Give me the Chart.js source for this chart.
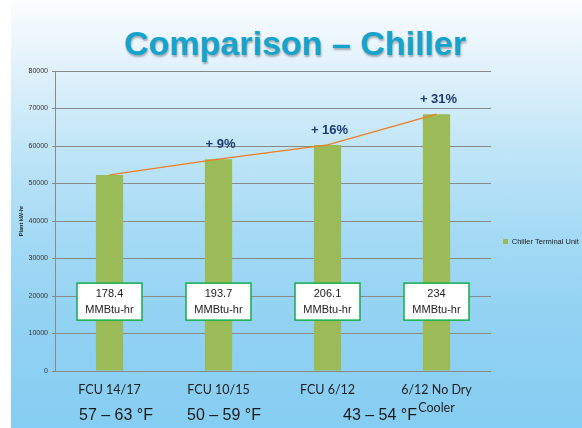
<!DOCTYPE html>
<html>
<head>
<meta charset="utf-8">
<script src="https://cdn.jsdelivr.net/npm/chart.js@4"></script>
<style>
  body { margin: 0; width: 582px; height: 428px; position: relative; overflow: hidden; background: #fff; }
  #bg {
    position: absolute; left: 11px; top: 0; width: 571px; height: 428px;
    background: linear-gradient(to bottom, #fbfdfe 0%, #e2f2fb 15%, #c0e5f7 35%, #a4daf5 55%, #92d2f3 75%, #85cdf2 100%);
  }
  #chart { position: absolute; left: 0; top: 0; }
  .title {
    position: absolute; left: 124px; top: 26px; font: bold 34px "Liberation Sans", Arial, sans-serif;
    line-height: 34px; color: #14a3cc; text-shadow: 1px 2px 2px rgba(0, 0, 0, 0.3); white-space: nowrap;
  }
  .temp {
    position: absolute; top: 407px; font: 16px "Liberation Sans", Arial, sans-serif;
    line-height: 16px; color: #1a1a1a; white-space: nowrap;
  }
</style>
</head>
<body>
<div id="bg"></div>
<div class="title">Comparison – Chiller</div>
<canvas id="chart" width="582" height="428"></canvas>
<span class="temp" style="left:79px">57 – 63 °F</span>
<span class="temp" style="left:187px">50 – 59 °F</span>
<span class="temp" style="left:343px">43 – 54 °F</span>
<script>
// du lieu bieu do
const categories = [['FCU 14/17'], ['FCU 10/15'], ['FCU 6/12'], ['6/12 No Dry', 'Cooler']];
const plantKwHr = [52300, 56500, 60300, 68500];
const increaseLabels = ['', '+ 9%', '+ 16%', '+ 31%'];
const energyValues = ['178.4', '193.7', '206.1', '234'];
const energyUnit = 'MMBtu-hr';
const yMin = 0;
const yMax = 80000;
const yStep = 10000;

// hop ghi chu va nhan phan tram
const annotations = {
  id: 'annotations',
  afterDatasetsDraw(chart) {
    const ctx = chart.ctx;
    const bars = chart.getDatasetMeta(0).data;
    const y = chart.scales.y;
    ctx.save();
    bars.forEach((bar, i) => {
      // hop MMBtu
      const cy = y.getPixelForValue(18500);
      const w = 65, h = 37;
      ctx.fillStyle = '#ffffff';
      ctx.fillRect(bar.x - w / 2, cy - h / 2, w, h);
      ctx.strokeStyle = '#14ad4a';
      ctx.lineWidth = 1.5;
      ctx.strokeRect(bar.x - w / 2, cy - h / 2, w, h);
      ctx.fillStyle = '#222';
      ctx.font = '11px "Liberation Sans", Arial, sans-serif';
      ctx.textAlign = 'center';
      ctx.textBaseline = 'middle';
      ctx.fillText(energyValues[i], bar.x, cy - 8);
      ctx.fillText(energyUnit, bar.x, cy + 8);
      // phan tram tang
      if (increaseLabels[i]) {
        ctx.fillStyle = '#1f3b70';
        ctx.font = 'bold 13px "Liberation Sans", Arial, sans-serif';
        ctx.textBaseline = 'alphabetic';
        ctx.fillText(increaseLabels[i], bar.x + 2, bar.y - 11);
      }
    });
    ctx.restore();
  }
};

// dich chu thich len mot chut
const legendShift = {
  id: 'legendShift',
  afterLayout(chart) {
    chart.legend.top -= 8;
    chart.legend.bottom -= 8;
  }
};

const config = {
  type: 'bar',
  data: {
    labels: categories,
    datasets: [{
      label: 'Chiller Terminal Unit',
      data: plantKwHr,
      backgroundColor: '#9bbb59',
      borderWidth: 0,
      categoryPercentage: 1,
      barPercentage: 0.25,
      order: 2
    }, {
      type: 'line',
      label: 'trend',
      data: plantKwHr,
      borderColor: '#ef7d22',
      borderWidth: 1.2,
      pointRadius: 0,
      fill: false,
      tension: 0,
      order: 1
    }]
  },
  options: {
    responsive: false,
    animation: false,
    layout: { padding: { top: 71, left: 0, right: 0, bottom: 0 } },
    plugins: {
      tooltip: { enabled: false },
      legend: {
        position: 'right',
        maxWidth: 91,
        labels: {
          boxWidth: 5,
          boxHeight: 5,
          padding: 12,
          color: '#222',
          font: { size: 7.5, family: '"Liberation Sans", Arial, sans-serif' },
          filter: item => item.datasetIndex === 0
        }
      }
    },
    scales: {
      x: {
        grid: { display: false },
        border: { display: false },
        afterFit(scale) { scale.height = 57; },
        ticks: {
          autoSkip: false,
          maxRotation: 0,
          padding: 2,
          color: '#222',
          font: { size: 12.5, family: 'Lato, sans-serif', lineHeight: 1.45 }
        }
      },
      y: {
        min: yMin,
        max: yMax,
        afterFit(scale) { scale.width = 55; },
        grid: { color: '#8a8a8a', tickLength: 3, lineWidth: 1 },
        border: { color: '#8a8a8a' },
        ticks: {
          stepSize: yStep,
          padding: 4,
          color: '#333',
          font: { size: 7, family: '"Liberation Sans", Arial, sans-serif' },
          callback: value => String(value)
        },
        title: {
          display: true,
          text: 'Plant kW-hr',
          color: '#222',
          padding: { top: 18, bottom: 0 },
          font: { size: 5.5, weight: 'bold', family: '"Liberation Sans", Arial, sans-serif' }
        }
      }
    }
  },
  plugins: [annotations, legendShift]
};

const bieuDo = new Chart(document.getElementById('chart'), config);
</script>
</body>
</html>
